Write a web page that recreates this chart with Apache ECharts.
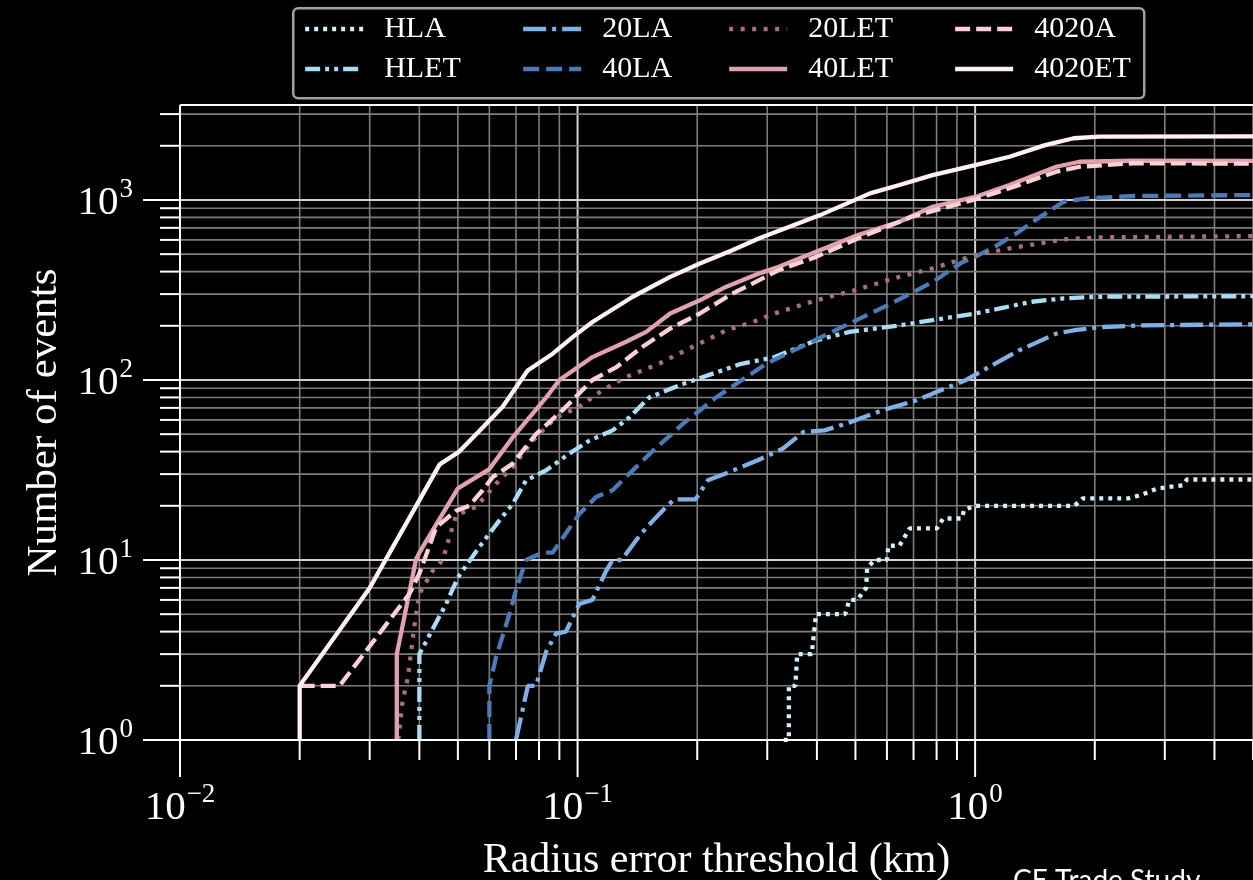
<!DOCTYPE html>
<html>
<head>
<meta charset="utf-8">
<script src="https://cdn.jsdelivr.net/npm/echarts@6/dist/echarts.min.js"></script>
<style>
  html, body { margin: 0; padding: 0; background: #000; }
  #chart { width: 1253px; height: 880px; }
</style>
</head>
<body>
<div id="chart"></div>
<script>
// Cumulative event counts vs. radius error threshold, [threshold km, count]
const hla = [[0.33,1],[0.34,1],[0.34,2],[0.353,2],[0.357,3],[0.388,3],[0.398,5],[0.471,5],[0.483,6],[0.506,6],[0.532,7],[0.535,9],[0.558,10],[0.60,10],[0.605,12],[0.645,12],[0.685,15],[0.802,15],[0.831,17],[0.926,17],[0.938,19],[1.0,20],[1.777,20],[1.866,22],[2.43,22],[2.616,23],[2.88,25],[3.33,26],[3.41,28],[5,28]];
const hlet = [[0.04,1],[0.04,3],[0.0467,5.7],[0.05,8],[0.0566,11.8],[0.0636,16.6],[0.0687,20.5],[0.0742,27.7],[0.0834,31.5],[0.0953,39],[0.107,46],[0.1225,52.5],[0.135,62],[0.1515,80],[0.184,95],[0.258,123],[0.313,134],[0.398,166],[0.483,185],[0.645,201],[0.782,215],[1.0,234],[1.39,272],[1.67,284],[2.05,290],[5,292]];
const la20 = [[0.07,1],[0.075,2],[0.0786,2],[0.0834,3.1],[0.0883,3.9],[0.0935,4],[0.101,5.7],[0.109,6],[0.118,8.7],[0.1225,10],[0.129,10],[0.1445,14],[0.155,16.6],[0.167,19.7],[0.175,21.7],[0.198,21.7],[0.2125,27.7],[0.234,30],[0.284,35.8],[0.328,41.5],[0.37,51.4],[0.418,52.5],[0.483,58],[0.5855,68],[0.711,77],[0.782,84],[0.949,100],[1.12,123],[1.29,146],[1.6,181],[1.8,190],[2.1,197],[2.62,201],[5,204]];
const la40 = [[0.06,1],[0.06,2],[0.0624,2.9],[0.0674,5],[0.070,6.8],[0.0742,10],[0.0817,11],[0.0866,11],[0.101,18],[0.1113,22.4],[0.1225,24.4],[0.1325,29],[0.155,40.6],[0.184,57],[0.223,80],[0.298,123],[0.379,159],[0.483,206],[0.615,266],[0.782,350],[0.926,450],[1.0,483],[1.12,549],[1.27,652],[1.46,807],[1.67,977],[1.9,1020],[2.5,1052],[5,1065]];
const let20 = [[0.0354,1],[0.0363,1.65],[0.0374,2.2],[0.0388,4.2],[0.04,6.5],[0.0432,8.7],[0.0458,10],[0.0476,13.4],[0.0495,17.7],[0.0555,19.7],[0.0624,26.5],[0.0687,32.8],[0.0771,46],[0.0883,62],[0.101,71],[0.1157,88],[0.1325,104],[0.16,123],[0.195,153],[0.237,189],[0.276,210],[0.3127,234],[0.398,277],[0.483,309],[0.645,374],[0.782,417],[1.0,494],[1.22,538],[1.67,604],[2.05,620],[5,630]];
const let40 = [[0.0351,1],[0.0351,3],[0.0392,10],[0.04,11],[0.05,25],[0.06,32],[0.0687,48],[0.0834,80],[0.09,100],[0.109,134],[0.1325,163],[0.1488,185],[0.171,234],[0.203,277],[0.236,329],[0.2855,390],[0.3206,425],[0.507,638],[0.645,757],[0.782,916],[1.0,1040],[1.22,1211],[1.6,1530],[1.83,1631],[2.5,1652],[5,1650]];
const a4020 = [[0.02,2],[0.0252,2],[0.0378,6.5],[0.04,8.4],[0.0441,15.2],[0.0495,18.8],[0.0534,20],[0.0577,24.4],[0.0612,28.9],[0.0687,34.3],[0.0786,50],[0.0917,68],[0.109,100],[0.1253,118],[0.1457,153],[0.171,193],[0.203,234],[0.245,302],[0.276,344],[0.3206,408],[0.398,483],[0.507,611],[0.693,807],[1.0,1008],[1.22,1161],[1.6,1436],[1.83,1530],[2.5,1600],[5,1590]];
const et4020 = [[0.02,1],[0.02,2],[0.03,7],[0.045,34],[0.0504,40],[0.0566,52],[0.0648,71],[0.0749,113],[0.0866,140],[0.0972,173],[0.109,210],[0.1377,290],[0.171,374],[0.203,444],[0.245,526],[0.2855,611],[0.4076,824],[0.544,1088],[0.645,1211],[0.782,1375],[1.0,1563],[1.22,1738],[1.5,2018],[1.77,2203],[2.05,2248],[5,2258]];

const seriesNames = ['HLA', 'HLET', '20LA', '40LA', '20LET', '40LET', '4020A', '4020ET'];
const seriesData = [hla, hlet, la20, la40, let20, let40, a4020, et4020];

// Axis tick values (log axes)
const xMajorTicks = [0.01, 0.1, 1];
const xMinorTicks = [0.02, 0.03, 0.04, 0.05, 0.06, 0.07, 0.08, 0.09,
                     0.2, 0.3, 0.4, 0.5, 0.6, 0.7, 0.8, 0.9, 2, 3, 4, 5];
const yMajorTicks = [1, 10, 100, 1000];
const yMinorTicks = [2, 3, 4, 5, 6, 7, 8, 9, 20, 30, 40, 50, 60, 70, 80, 90,
                     200, 300, 400, 500, 600, 700, 800, 900, 2000, 3000];

// Legend laid out as four two-row columns
const legendColumns = [['HLA', 'HLET'], ['20LA', '40LA'], ['20LET', '40LET'], ['4020A', '4020ET']];

const X_MIN = 0.01, X_MAX = 5, Y_MIN = 1, Y_MAX = 3370;
const SERIF = '"Liberation Serif", "Times New Roman", serif';
const MAJOR_GRID = '#d0d0d0';
const MINOR_GRID = '#7c7c7c';
const LINE_WIDTH = 4.3;

const lineStyles = {
  'HLA':    { color: '#d5f0fb', type: [4, 5] },
  'HLET':   { color: '#a9dcf5', type: [15, 5, 4, 5, 4, 5] },
  '20LA':   { color: '#7fb0e8', type: [23, 6, 4, 6] },
  '40LA':   { color: '#4a7ab8', type: [16, 7] },
  '20LET':  { color: '#a76e7b', type: [4, 7.5] },
  '40LET':  { color: '#e2a1ae', type: 'solid' },
  '4020A':  { color: '#fbd0d7', type: [15, 6] },
  '4020ET': { color: '#fff0f4', type: 'solid' }
};

function powerLabel(v) {
  const l = Math.log10(v);
  const e = Math.round(l);
  if (Math.abs(l - e) > 1e-6) return '';
  const sup = e < 0 ? '\u2212' + (-e) : String(e);
  return '{b|10}{s|' + sup + '}';
}

const labelRich = {
  b: { fontFamily: SERIF, fontSize: 41, color: '#fff', lineHeight: 48, verticalAlign: 'bottom' },
  s: { fontFamily: SERIF, fontSize: 27, color: '#fff', lineHeight: 28, verticalAlign: 'top', padding: [0, 0, 0, 1] }
};

// Grid lines and outward ticks, positioned through the axes' own scales
function renderGrid(params, api) {
  const kind = api.value(2);
  const children = [];
  if (kind === 0 || kind === 1) {
    const v = api.value(0);
    const p0 = api.coord([v, Y_MIN]);
    const p1 = api.coord([v, Y_MAX]);
    const major = kind === 0;
    children.push({ type: 'line', shape: { x1: p0[0], y1: p0[1], x2: p1[0], y2: p1[1] },
      style: { stroke: major ? MAJOR_GRID : MINOR_GRID, lineWidth: major ? 2 : 1.6 } });
    children.push({ type: 'line', shape: { x1: p0[0], y1: p0[1], x2: p0[0], y2: p0[1] + (major ? 37 : 20) },
      style: { stroke: '#fff', lineWidth: 2 } });
  } else {
    const v = api.value(1);
    const p0 = api.coord([X_MIN, v]);
    const p1 = api.coord([X_MAX, v]);
    const major = kind === 2;
    children.push({ type: 'line', shape: { x1: p0[0], y1: p0[1], x2: p1[0], y2: p1[1] },
      style: { stroke: major ? MAJOR_GRID : MINOR_GRID, lineWidth: major ? 2 : 1.6 } });
    children.push({ type: 'line', shape: { x1: p0[0] - (major ? 37 : 20), y1: p0[1], x2: p0[0], y2: p0[1] },
      style: { stroke: '#fff', lineWidth: 2 } });
  }
  return { type: 'group', children };
}

// Left, bottom and top spines
function renderFrame(params, api) {
  const bl = api.coord([X_MIN, Y_MIN]);
  const tl = api.coord([X_MIN, Y_MAX]);
  const br = api.coord([X_MAX, Y_MIN]);
  const tr = api.coord([X_MAX, Y_MAX]);
  const st = { stroke: '#fff', lineWidth: 2 };
  return { type: 'group', children: [
    { type: 'line', shape: { x1: bl[0], y1: bl[1], x2: tl[0], y2: tl[1] }, style: st },
    { type: 'line', shape: { x1: bl[0], y1: bl[1], x2: br[0], y2: br[1] }, style: st },
    { type: 'line', shape: { x1: tl[0], y1: tl[1], x2: tr[0], y2: tr[1] }, style: st }
  ] };
}

const gridData = []
  .concat(xMajorTicks.map(v => [v, Y_MIN, 0]))
  .concat(xMinorTicks.map(v => [v, Y_MIN, 1]))
  .concat(yMajorTicks.map(v => [X_MIN, v, 2]))
  .concat(yMinorTicks.map(v => [X_MIN, v, 3]));

const chart = echarts.init(document.getElementById('chart'));

const lineSeries = seriesNames.map((name, i) => ({
  name,
  type: 'line',
  data: seriesData[i],
  symbol: 'none',
  smooth: false,
  z: 3,
  lineStyle: { color: lineStyles[name].color, width: LINE_WIDTH, type: lineStyles[name].type, cap: 'butt' },
  itemStyle: { color: lineStyles[name].color },
  emphasis: { disabled: true }
}));

const legendLeft = [303, 521, 727, 953];

chart.setOption({
  animation: false,
  backgroundColor: '#000',
  grid: { left: 180, right: 0, top: 105, bottom: 140, containLabel: false, outerBoundsMode: 'none' },
  xAxis: {
    type: 'log', logBase: 10, min: X_MIN, max: X_MAX, interval: 1,
    name: 'Radius error threshold (km)', nameLocation: 'middle', nameGap: 100,
    nameTextStyle: { color: '#fff', fontFamily: SERIF, fontSize: 42, lineHeight: 42 },
    axisLine: { show: false }, axisTick: { show: false }, splitLine: { show: false },
    axisLabel: { formatter: powerLabel, rich: labelRich, margin: 41, showMaxLabel: false, hideOverlap: false }
  },
  yAxis: {
    type: 'log', logBase: 10, min: Y_MIN, max: Y_MAX, interval: 1,
    name: 'Number of events', nameLocation: 'middle', nameGap: 103,
    nameTextStyle: { color: '#fff', fontFamily: SERIF, fontSize: 43, lineHeight: 43 },
    axisLine: { show: false }, axisTick: { show: false }, splitLine: { show: false },
    axisLabel: { formatter: powerLabel, rich: labelRich, margin: 47, showMaxLabel: false, hideOverlap: false }
  },
  legend: legendColumns.map((names, i) => ({
    data: names,
    orient: 'vertical',
    left: legendLeft[i],
    top: 14,
    padding: 0,
    itemGap: 10,
    itemWidth: 58,
    itemHeight: 14,
    selectedMode: false,
    itemStyle: { opacity: 0 },
    lineStyle: { width: LINE_WIDTH },
    textStyle: { color: '#fff', fontFamily: SERIF, fontSize: 30, lineHeight: 30, padding: [0, 0, 0, 16] }
  })),
  graphic: [
    { type: 'rect', left: 292, top: 7, z: 3,
      shape: { width: 851, height: 90, r: 5 },
      style: { fill: '#000', stroke: '#a0a0a0', lineWidth: 2.5 } },
    { type: 'text', left: 1013, top: 867, z: 3,
      style: { text: 'CE Trade Study', fill: '#fff', font: '28px Lato, "Open Sans", sans-serif' } }
  ],
  series: [
    { type: 'custom', name: 'grid', data: gridData, renderItem: renderGrid, z: 1, silent: true, clip: false,
      dimensions: ['x', 'y', 'kind'], encode: { x: 0, y: 1 } },
    ...lineSeries,
    { type: 'custom', name: 'frame', data: [[X_MIN, Y_MIN, 0]], renderItem: renderFrame, z: 5, silent: true, clip: false,
      dimensions: ['x', 'y', 'kind'], encode: { x: 0, y: 1 } }
  ]
});
</script>
</body>
</html>
